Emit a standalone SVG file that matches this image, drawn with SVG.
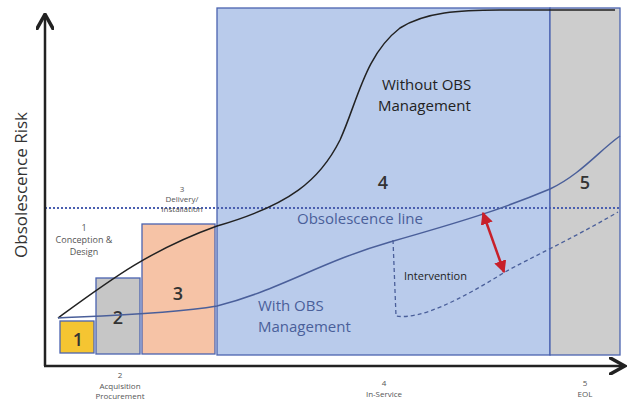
<svg xmlns="http://www.w3.org/2000/svg" width="627" height="400" viewBox="0 0 627 400">
<defs>
<style>
text{font-family:"Open Sans","Liberation Sans",sans-serif;fill:#333}
.small{font-size:8px;fill:#555;text-anchor:middle}
.big{font-size:18px;fill:#333;text-anchor:middle;font-weight:600}
.lbl{font-size:15px;fill:#222}
.blu{font-size:15px;fill:#4a5f9a}
.box{stroke:#4a63b0;stroke-width:1.3}
</style>
<marker id="ax" viewBox="0 0 10 10" refX="8" refY="5" markerWidth="7" markerHeight="7" orient="auto-start-reverse"><path d="M0,0 L9,5 L0,10" fill="none" stroke="#222" stroke-width="2"/></marker>
<marker id="red" viewBox="0 0 10 10" refX="9" refY="5" markerWidth="5" markerHeight="5" orient="auto-start-reverse"><path d="M0,0 L10,5 L0,10 z" fill="#c8202a"/></marker>
</defs>
<rect width="627" height="400" fill="#fff"/>
<g id="box4"><rect class="box" x="217" y="8" width="333" height="347" fill="#b9cbeb"/><text class="big" x="383" y="189">4</text></g>
<g id="box5"><rect class="box" x="550" y="8" width="70" height="347" fill="#cdcdcd"/><text class="big" x="585" y="189">5</text></g>
<g id="box3"><rect class="box" x="142" y="224" width="73" height="130" fill="#f6c3a6"/><text class="big" x="178" y="300">3</text></g>
<g id="box2"><rect class="box" x="96" y="278" width="44" height="76" fill="#c6c6c6"/><text class="big" x="118" y="324">2</text></g>
<g id="box1"><rect class="box" x="60" y="321" width="34" height="32" fill="#f5c532"/><text class="big" x="78" y="346">1</text></g>
<g id="connectors">
<line x1="45" y1="208" x2="620" y2="208" stroke="#4a5fb0" stroke-width="2" stroke-dasharray="2,2"/>
<path d="M58,318 C110,280 150,250 217,226 C290,205 320,180 340,140 C358,100 365,55 400,28 C425,12 460,10 500,10 L615,10" fill="none" stroke="#222" stroke-width="1.5"/>
<path d="M58,318 C100,316 170,314 217,306 C280,290 320,262 390,242 C460,222 500,210 550,189 C580,175 600,150 620,136" fill="none" stroke="#4a5f9a" stroke-width="1.5"/>
<path d="M393,240 L396,316 C420,320 460,300 505,272 C530,258 570,240 618,212" fill="none" stroke="#4a5f9a" stroke-width="1.3" stroke-dasharray="4,3"/>
<line x1="483" y1="213" x2="504" y2="272" stroke="#c8202a" stroke-width="2.5" marker-start="url(#red)" marker-end="url(#red)"/>
<line x1="45" y1="366" x2="45" y2="16" stroke="#222" stroke-width="2.5" marker-end="url(#ax)"/>
<line x1="44" y1="366" x2="623" y2="366" stroke="#222" stroke-width="2.5" marker-end="url(#ax)"/>
</g>
<g id="labels">
<text class="lbl" x="382" y="90">Without OBS</text>
<text class="lbl" x="378" y="111">Management</text>
<text class="blu" x="297" y="224">Obsolescence line</text>
<text class="blu" x="258" y="311">With OBS</text>
<text class="blu" x="258" y="332">Management</text>
<text x="404" y="280" style="font-size:11px;fill:#222">Intervention</text>
<text class="small" style="font-size:9px"><tspan x="84" y="231">1</tspan><tspan x="84" y="243">Conception &amp;</tspan><tspan x="84" y="255">Design</tspan></text>
<text class="small"><tspan x="182" y="192">3</tspan><tspan x="182" y="202">Delivery/</tspan><tspan x="182" y="212">Installation</tspan></text>
<text class="small"><tspan x="120" y="378">2</tspan><tspan x="120" y="389">Acquisition</tspan><tspan x="120" y="399">Procurement</tspan></text>
<text class="small"><tspan x="384" y="386">4</tspan><tspan x="384" y="397">In-Service</tspan></text>
<text class="small"><tspan x="585" y="386">5</tspan><tspan x="585" y="397">EOL</tspan></text>
<text transform="translate(27,185) rotate(-90)" style="font-size:17px;fill:#333;text-anchor:middle">Obsolescence Risk</text>
</g>
</svg>
